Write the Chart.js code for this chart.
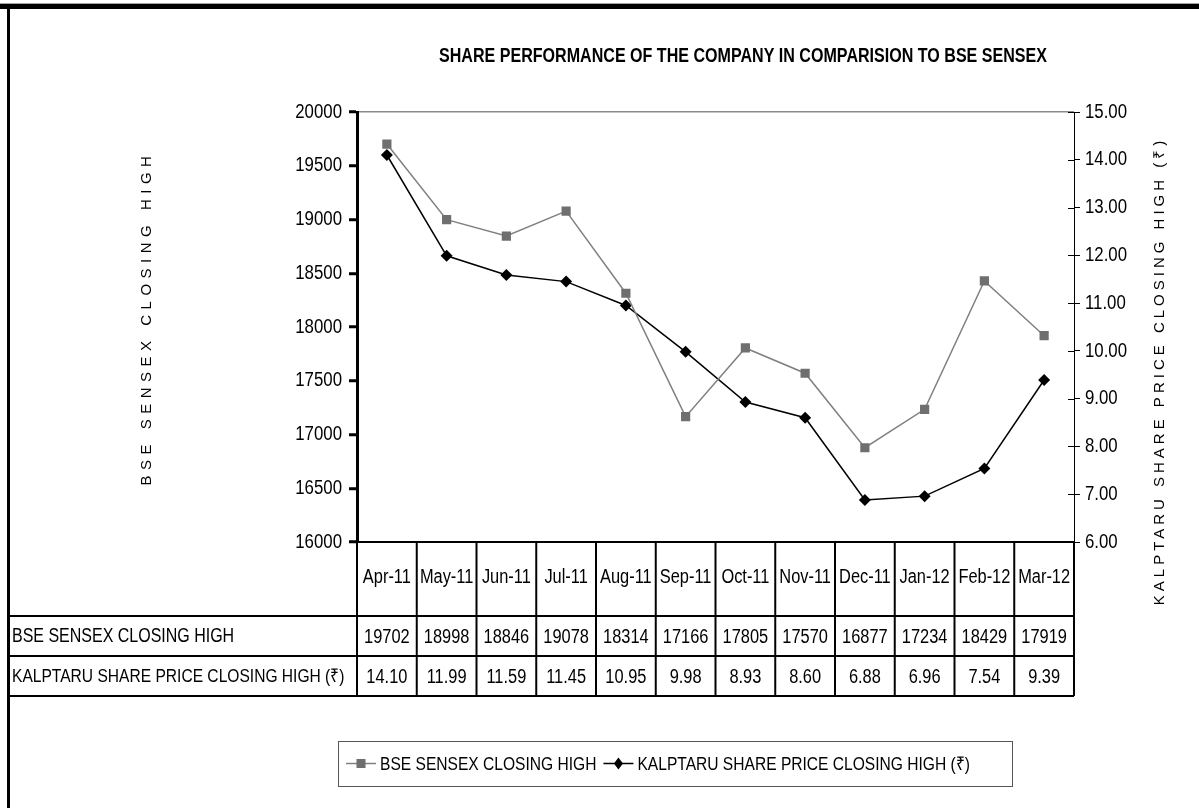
<!DOCTYPE html>
<html><head><meta charset="utf-8">
<script src="https://cdn.jsdelivr.net/npm/chart.js@4/dist/chart.umd.min.js"></script>
<style>html,body{margin:0;padding:0;background:#fff;overflow:hidden}</style>
</head><body>
<canvas id="c" width="1199" height="808"></canvas>
<script>
const categories = ['Apr-11','May-11','Jun-11','Jul-11','Aug-11','Sep-11','Oct-11','Nov-11','Dec-11','Jan-12','Feb-12','Mar-12'];
const sensexHigh = [19702,18998,18846,19078,18314,17166,17805,17570,16877,17234,18429,17919];
const kalptaruHigh = [14.10,11.99,11.59,11.45,10.95,9.98,8.93,8.60,6.88,6.96,7.54,9.39];
const sensexAxis = {min:16000, max:20000, step:500};
const kalptaruAxis = {min:6, max:15, step:1};
const chartTitle = 'SHARE PERFORMANCE OF THE COMPANY IN COMPARISION TO BSE SENSEX';
const sensexName = 'BSE SENSEX CLOSING HIGH';
const kalptaruName = 'KALPTARU SHARE PRICE CLOSING HIGH (\u20B9)';

const REG = "'Liberation Sans',Arial,sans-serif";
const NARROW_SCALE = 0.82;
const GRAY_LINE = '#808080', GRAY_MARK = '#6f6f6f';

function line(ctx,x1,y1,x2,y2){ctx.beginPath();ctx.moveTo(x1,y1);ctx.lineTo(x2,y2);ctx.stroke();}
function narrowText(ctx, text, x, y, size, align, bold){
  ctx.save();
  ctx.font = (bold?'bold ':'') + size + 'px ' + REG;
  ctx.textAlign = align; ctx.textBaseline = 'middle'; ctx.fillStyle = '#000';
  ctx.translate(x, y); ctx.scale(NARROW_SCALE, 1);
  ctx.fillText(text, 0, 0);
  ctx.restore();
}
function narrowWidth(ctx, text, size){
  ctx.save(); ctx.font = size+'px '+REG; const w = ctx.measureText(text).width*NARROW_SCALE; ctx.restore(); return w;
}

const decorPlugin = {
  id:'decor',
  beforeDraw(chart){
    const ctx = chart.ctx; ctx.save();
    ctx.fillStyle='#fff'; ctx.fillRect(0,0,chart.width,chart.height);
    ctx.fillStyle='#a0a0a0'; ctx.fillRect(0,3,chart.width,1);
    ctx.fillStyle='#000'; ctx.fillRect(0,4,chart.width,5); ctx.fillRect(7,4,3,chart.height);
    ctx.restore();
    narrowText(ctx, chartTitle, 743, 57, 19.6, 'center', true);
  },
  afterDraw(chart){
    const ctx = chart.ctx, a = chart.chartArea, xs = chart.scales.x;
    ctx.save();
    // tick labels
    const ys = chart.scales.y, ys1 = chart.scales.y1;
    ys.ticks.forEach(t=>narrowText(ctx, String(t.value), a.left-15, ys.getPixelForValue(t.value), 20.5, 'right'));
    ys1.ticks.forEach(t=>narrowText(ctx, Number(t.value).toFixed(2), a.right+11, ys1.getPixelForValue(t.value), 20.5, 'left'));
    // right ticks crossing inside
    ctx.strokeStyle='#000'; ctx.lineWidth=1;
    ys1.ticks.forEach(t=>{const y=Math.round(ys1.getPixelForValue(t.value))+0.5; line(ctx,a.right-6,y,a.right,y);});
    // axis titles
    ctx.fillStyle='#000'; ctx.font='15px '+REG; ctx.textAlign='center'; ctx.textBaseline='middle';
    ctx.save(); ctx.translate(147, 318); ctx.rotate(-Math.PI/2); ctx.letterSpacing='5.5px'; ctx.fillText(sensexName,0,0); ctx.restore();
    ctx.save(); ctx.translate(1160, 371); ctx.rotate(-Math.PI/2); ctx.letterSpacing='4.0px'; ctx.fillText(kalptaruName,0,0); ctx.restore();
    // data table
    const top = a.bottom;
    const half = (xs.getPixelForValue(1)-xs.getPixelForValue(0))/2;
    const rows = [top+74, top+114, top+154];
    ctx.strokeStyle='#000'; ctx.lineWidth=2;
    line(ctx, a.left, top, a.right, top);
    rows.forEach(y=>line(ctx, 8, y, a.right, y));
    for(let i=0;i<=categories.length;i++){
      const x = i<categories.length ? xs.getPixelForValue(i)-half : xs.getPixelForValue(categories.length-1)+half;
      line(ctx, x, top, x, rows[2]);
    }
    categories.forEach((c,i)=>{
      const x = xs.getPixelForValue(i);
      narrowText(ctx, c, x, top+35, 20, 'center');
      narrowText(ctx, String(sensexHigh[i]), x, (rows[0]+rows[1])/2+1, 20, 'center');
      narrowText(ctx, kalptaruHigh[i].toFixed(2), x, (rows[1]+rows[2])/2+1, 20, 'center');
    });
    narrowText(ctx, sensexName, 12, (rows[0]+rows[1])/2+1, 19.5, 'left');
    narrowText(ctx, kalptaruName, 12, (rows[1]+rows[2])/2+1, 19, 'left');
    // legend
    const bx=338, by=741, bw=674, bh=45;
    ctx.lineWidth=1; ctx.strokeStyle='#555'; ctx.strokeRect(bx+0.5,by+0.5,bw,bh);
    const cy = by+bh/2, fs=19;
    const items = [
      {name:sensexName, color:GRAY_LINE, mark:GRAY_MARK, style:'rect'},
      {name:kalptaruName, color:'#000', mark:'#000', style:'rectRot'}
    ];
    const sample=30, gap=4, sep=7;
    let x = bx + 8;
    items.forEach(it=>{
      ctx.strokeStyle=it.color; ctx.lineWidth=1.5; line(ctx,x,cy,x+sample,cy);
      ctx.fillStyle=it.mark; const mx=x+sample/2;
      if(it.style==='rect'){ctx.fillRect(mx-4.5,cy-4.5,9,9);} else {ctx.beginPath();ctx.moveTo(mx,cy-6);ctx.lineTo(mx+4.5,cy);ctx.lineTo(mx,cy+6);ctx.lineTo(mx-4.5,cy);ctx.closePath();ctx.fill();}
      x += sample+gap;
      narrowText(ctx, it.name, x, cy+1, fs, 'left');
      x += narrowWidth(ctx,it.name,fs) + sep;
    });
    ctx.restore();
  }
};

new Chart(document.getElementById('c'), {
  type:'line',
  data:{labels:categories, datasets:[
    {label:sensexName, data:sensexHigh, yAxisID:'y', borderColor:GRAY_LINE, borderWidth:1.5,
     pointStyle:'rect', pointRadius:6.5, pointBackgroundColor:GRAY_MARK, pointBorderColor:GRAY_MARK, pointBorderWidth:0, tension:0, fill:false},
    {label:kalptaruName, data:kalptaruHigh, yAxisID:'y1', borderColor:'#000', borderWidth:1.5,
     pointStyle:'rectRot', pointRadius:6, pointBackgroundColor:'#000', pointBorderColor:'#000', pointBorderWidth:0, tension:0, fill:false}
  ]},
  options:{
    responsive:false, animation:false, devicePixelRatio:1,
    layout:{padding:{left:287,right:55,top:112,bottom:266}, autoPadding:false},
    plugins:{legend:{display:false}, title:{display:false}, tooltip:{enabled:false}},
    scales:{
      x:{type:'category', display:false, offset:true},
      y:{position:'left', min:sensexAxis.min, max:sensexAxis.max,
         ticks:{stepSize:sensexAxis.step, display:false},
         border:{display:true,color:'#000',width:3},
         grid:{drawOnChartArea:true, color:c=>(c.tick&&c.tick.value===sensexAxis.max)?'#8a8a8a':'rgba(0,0,0,0)', lineWidth:1.5, tickColor:'#000', tickWidth:3, tickLength:8},
         afterFit:s=>{s.width=70;}},
      y1:{position:'right', min:kalptaruAxis.min, max:kalptaruAxis.max,
         ticks:{stepSize:kalptaruAxis.step, display:false},
         border:{display:true,color:'#000',width:1},
         grid:{drawOnChartArea:false, tickColor:'#000', tickWidth:1, tickLength:6},
         afterFit:s=>{s.width=70;}}
    }
  },
  plugins:[decorPlugin]
});
</script>
</body></html>
